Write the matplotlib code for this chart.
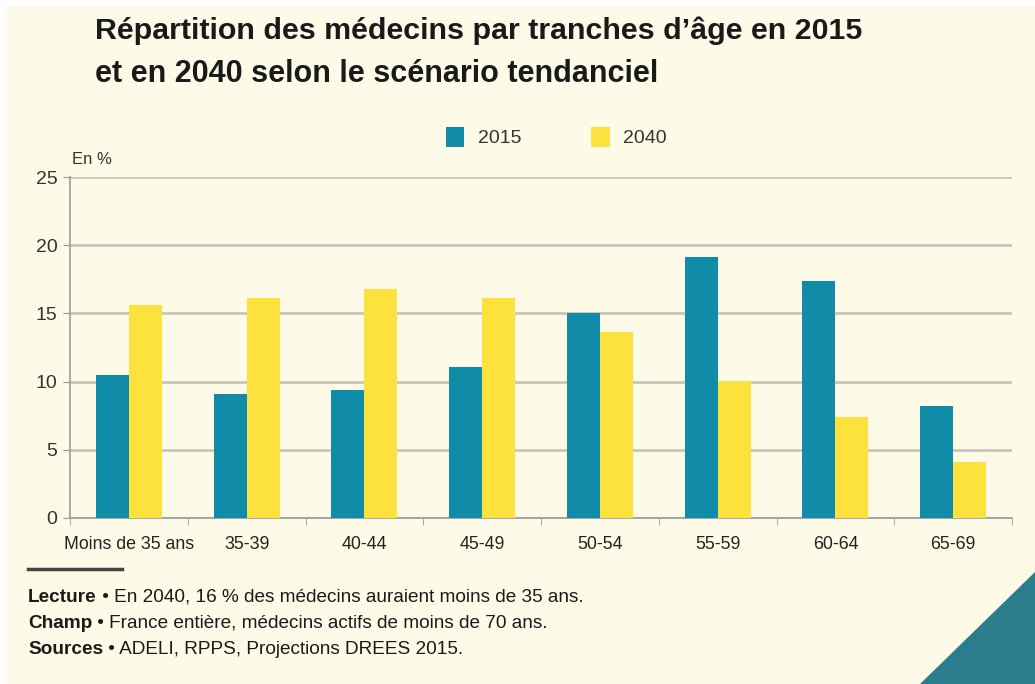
import numpy as np
import matplotlib
matplotlib.use('Agg')
import matplotlib.pyplot as plt
from matplotlib.patches import Rectangle, Polygon

categories = ['Moins de 35 ans', '35-39', '40-44', '45-49', '50-54', '55-59', '60-64', '65-69']
values_2015 = [10.5, 9.1, 9.4, 11.1, 15.05, 19.1, 17.4, 8.2]
values_2040 = [15.6, 16.15, 16.8, 16.15, 13.6, 10.05, 7.4, 4.1]
yticks = [0, 5, 10, 15, 20, 25]

BG = '#FDFBE7'
TEAL = '#108BA8'
YELLOW = '#FDE23D'
GRID = '#C9C7BA'
plt.rcParams['font.family'] = ['Liberation Sans', 'DejaVu Sans']

W, H = 1035, 684
fig = plt.figure(figsize=(W / 100, H / 100), dpi=100, facecolor='white')
renderer = fig.canvas.get_renderer()


def fit_text(xp, yp, s, width_px, size, **kw):
    # place text at pixel coords, shrink so it spans about width_px
    t = fig.text(xp / W, 1 - yp / H, s, fontsize=size, va='center', ha='left', **kw)
    w = t.get_window_extent(renderer=renderer).width
    if w > width_px:
        t.set_fontsize(size * width_px / w)
    return t


# cream background panel and decorative corner
fig.patches.append(Rectangle((5 / W, 0), 1, 1 - 6 / H, transform=fig.transFigure,
                             facecolor=BG, edgecolor='none', zorder=-10))
fig.patches.append(Polygon([(920 / W, 0), (1, 0), (1, (684 - 572) / H)],
                           closed=True, transform=fig.transFigure,
                           facecolor='#2B7D8E', edgecolor='none', zorder=-5))

# axes in pixel coordinates
x0, x1 = 70, 1012
y_top, y_bot = 177, 518
ax = fig.add_axes([x0 / W, 1 - y_bot / H, (x1 - x0) / W, (y_bot - y_top) / H])
ax.set_facecolor('none')

x = np.arange(len(categories))
bw = 0.28
ax.bar(x - bw / 2, values_2015, bw, color=TEAL, label='2015', zorder=3)
ax.bar(x + bw / 2, values_2040, bw, color=YELLOW, label='2040', zorder=3)

ax.set_xlim(-0.5, len(categories) - 0.5)
ax.set_ylim(0, 25)
ax.set_yticks(yticks)
ax.set_yticklabels([str(t) for t in yticks], fontsize=14, color='#333333')
ax.yaxis.grid(True, color=GRID, linewidth=2, zorder=0)
ax.set_axisbelow(True)

ax.set_xticks(x)
ax.set_xticklabels(categories, fontsize=12.8, color='#222222')
ax.set_xticks(np.arange(len(categories) + 1) - 0.5, minor=True)
ax.tick_params(axis='x', which='major', length=0, pad=13)
ax.tick_params(axis='x', which='minor', length=5, color='#999999')
ax.tick_params(axis='y', length=5, color='#999999', pad=4)

for s in ['top', 'right']:
    ax.spines[s].set_visible(False)
for s in ['left', 'bottom']:
    ax.spines[s].set_color('#999999')
    ax.spines[s].set_linewidth(1.2)

# title
fit_text(95, 31, "Répartition des médecins par tranches d’âge en 2015", 770, 24,
         fontweight='bold', color='#1a1a1a')
fit_text(95, 74, "et en 2040 selon le scénario tendanciel", 565, 24,
         fontweight='bold', color='#1a1a1a')

# legend
ax.legend(loc='center left', bbox_to_anchor=(428 / W, 1 - 137 / H), bbox_transform=fig.transFigure,
          ncol=2, frameon=False, fontsize=14, handlelength=0.95, handleheight=1.2,
          columnspacing=3.6, handletextpad=0.7, labelcolor='#333333')

fig.text(72 / W, 1 - 160 / H, 'En %', fontsize=12, color='#333333', va='center', ha='left')

# footnote
fig.add_artist(plt.Line2D([28 / W, 122 / W], [1 - 569 / H, 1 - 569 / H],
                          transform=fig.transFigure, color='#444444', linewidth=2.5))

notes = [('Lecture', ' • En 2040, 16 % des médecins auraient moins de 35 ans.'),
         ('Champ', ' • France entière, médecins actifs de moins de 70 ans.'),
         ('Sources', ' • ADELI, RPPS, Projections DREES 2015.')]
for i, (bold, rest) in enumerate(notes):
    yy = 1 - (602 + 26 * i) / H
    t = fig.text(28 / W, yy, bold, fontsize=13.7, fontweight='bold', color='#1a1a1a',
                 va='baseline', ha='left')
    bb = t.get_window_extent(renderer=renderer)
    fig.text(bb.x1 / W, yy, rest, fontsize=13.7, color='#1a1a1a', va='baseline', ha='left')

fig.savefig('out.png', dpi=100, facecolor=fig.get_facecolor())
